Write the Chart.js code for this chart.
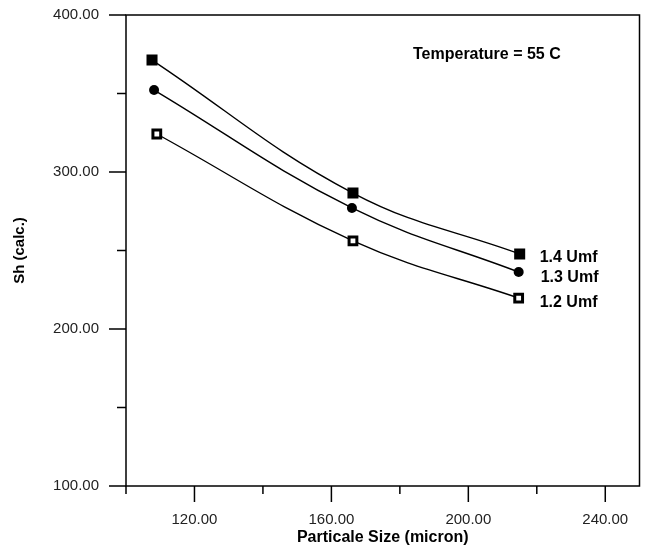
<!DOCTYPE html>
<html>
<head>
<meta charset="utf-8">
<script src="https://cdn.jsdelivr.net/npm/chart.js@4.4.0/dist/chart.umd.min.js"></script>
<style>
  html, body { margin: 0; padding: 0; background: #fff; }
  #wrap { width: 648px; height: 549px; }
</style>
</head>
<body>
<div id="wrap"><canvas id="shChart"></canvas></div>
<script>
// Sherwood number vs particle size at 55 C, three fluidising velocities
const seriesNames = ['1.4 Umf', '1.3 Umf', '1.2 Umf'];
const sizeUmf14 = [107.6, 166.3, 215.0];
const shUmf14   = [371.3, 286.6, 247.8];
const sizeUmf13 = [108.2, 166.0, 214.7];
const shUmf13   = [352.2, 277.1, 236.3];
const sizeUmf12 = [109.0, 166.3, 214.7];
const shUmf12   = [324.2, 256.1, 219.7];
const xTickValues = [100, 120, 140, 160, 180, 200, 220, 240];
const xMajorTicks = [120, 160, 200, 240];
const yTickValues = [100, 150, 200, 250, 300, 350, 400];
const yMajorTicks = [100, 200, 300, 400];
const noteText = 'Temperature = 55 C';

const toPoints = (xs, ys) => xs.map((x, i) => ({ x: x, y: ys[i] }));

// label nudges (px) for the series names next to the last point
const labelNudge = [[20, 4], [22, 6], [21, 5]];

const FONT = '"Liberation Sans", Arial, sans-serif';

function makeSeries(label, pts, style) {
  return Object.assign({
    label: label,
    data: pts,
    borderColor: '#000',
    borderWidth: 1.4,
    backgroundColor: '#000',
    pointBorderColor: '#000',
    tension: 0.4,
    fill: false
  }, style);
}

// frame, tick marks, series names and the temperature note
const decorations = {
  id: 'decorations',
  afterDraw(chart) {
    const { ctx, chartArea: a, scales: { x, y } } = chart;
    ctx.save();
    ctx.strokeStyle = '#000';
    ctx.lineWidth = 1.5;
    ctx.strokeRect(a.left, a.top, a.right - a.left, a.bottom - a.top);

    ctx.beginPath();
    xTickValues.forEach(v => {
      const px = x.getPixelForValue(v);
      const len = xMajorTicks.includes(v) ? 16 : 8;
      ctx.moveTo(px, a.bottom);
      ctx.lineTo(px, a.bottom + len);
    });
    yTickValues.forEach(v => {
      const py = y.getPixelForValue(v);
      const len = yMajorTicks.includes(v) ? 17 : 9;
      ctx.moveTo(a.left, py);
      ctx.lineTo(a.left - len, py);
    });
    ctx.stroke();

    ctx.fillStyle = '#000';
    ctx.font = 'bold 16px ' + FONT;
    ctx.textAlign = 'left';
    ctx.textBaseline = 'middle';
    chart.data.datasets.forEach((ds, i) => {
      const meta = chart.getDatasetMeta(i);
      const last = meta.data[meta.data.length - 1];
      ctx.fillText(ds.label, last.x + labelNudge[i][0], last.y + labelNudge[i][1]);
    });

    ctx.fillText(noteText, a.left + 287, a.top + 40);
    ctx.restore();
  }
};

new Chart(document.getElementById('shChart'), {
  type: 'line',
  data: {
    datasets: [
      makeSeries(seriesNames[0], toPoints(sizeUmf14, shUmf14),
        { pointStyle: 'rect', pointRadius: 7.8, pointBackgroundColor: '#000', pointBorderWidth: 0 }),
      makeSeries(seriesNames[1], toPoints(sizeUmf13, shUmf13),
        { pointStyle: 'circle', pointRadius: 5, pointBackgroundColor: '#000', pointBorderWidth: 0 }),
      makeSeries(seriesNames[2], toPoints(sizeUmf12, shUmf12),
        { pointStyle: 'rect', pointRadius: 5.5, pointBackgroundColor: '#fff', pointBorderWidth: 3 })
    ]
  },
  options: {
    responsive: true,
    maintainAspectRatio: false,
    animation: false,
    events: [],
    layout: { padding: { top: 15, right: 8, left: 0, bottom: 0 } },
    plugins: { legend: { display: false }, tooltip: { enabled: false } },
    scales: {
      x: {
        type: 'linear',
        min: 100,
        max: 250,
        grid: { display: false },
        border: { display: false },
        afterBuildTicks: s => { s.ticks = xTickValues.map(v => ({ value: v })); },
        afterFit: s => { s.height = 63; s.paddingLeft = 0; s.paddingRight = 0; },
        ticks: {
          autoSkip: false,
          maxRotation: 0,
          padding: 17,
          color: '#222',
          font: { family: FONT, size: 15 },
          callback: v => xMajorTicks.includes(v) ? v.toFixed(2) : ''
        },
        title: {
          display: true,
          text: 'Particale Size (micron)',
          color: '#000',
          font: { family: FONT, size: 16, weight: 'bold' },
          padding: { top: 0, bottom: 2 }
        }
      },
      y: {
        type: 'linear',
        min: 100,
        max: 400,
        grid: { display: false },
        border: { display: false },
        afterBuildTicks: s => { s.ticks = yTickValues.map(v => ({ value: v })); },
        afterFit: s => { s.width = 126; s.paddingTop = 0; s.paddingBottom = 0; },
        ticks: {
          autoSkip: false,
          padding: 19,
          color: '#222',
          font: { family: FONT, size: 15 },
          callback: v => yMajorTicks.includes(v) ? v.toFixed(2) : ''
        },
        title: {
          display: true,
          text: 'Sh (calc.)',
          color: '#000',
          font: { family: FONT, size: 15, weight: 'bold' },
          padding: { top: 11, bottom: 0 }
        }
      }
    }
  },
  plugins: [decorations]
});
</script>
</body>
</html>
